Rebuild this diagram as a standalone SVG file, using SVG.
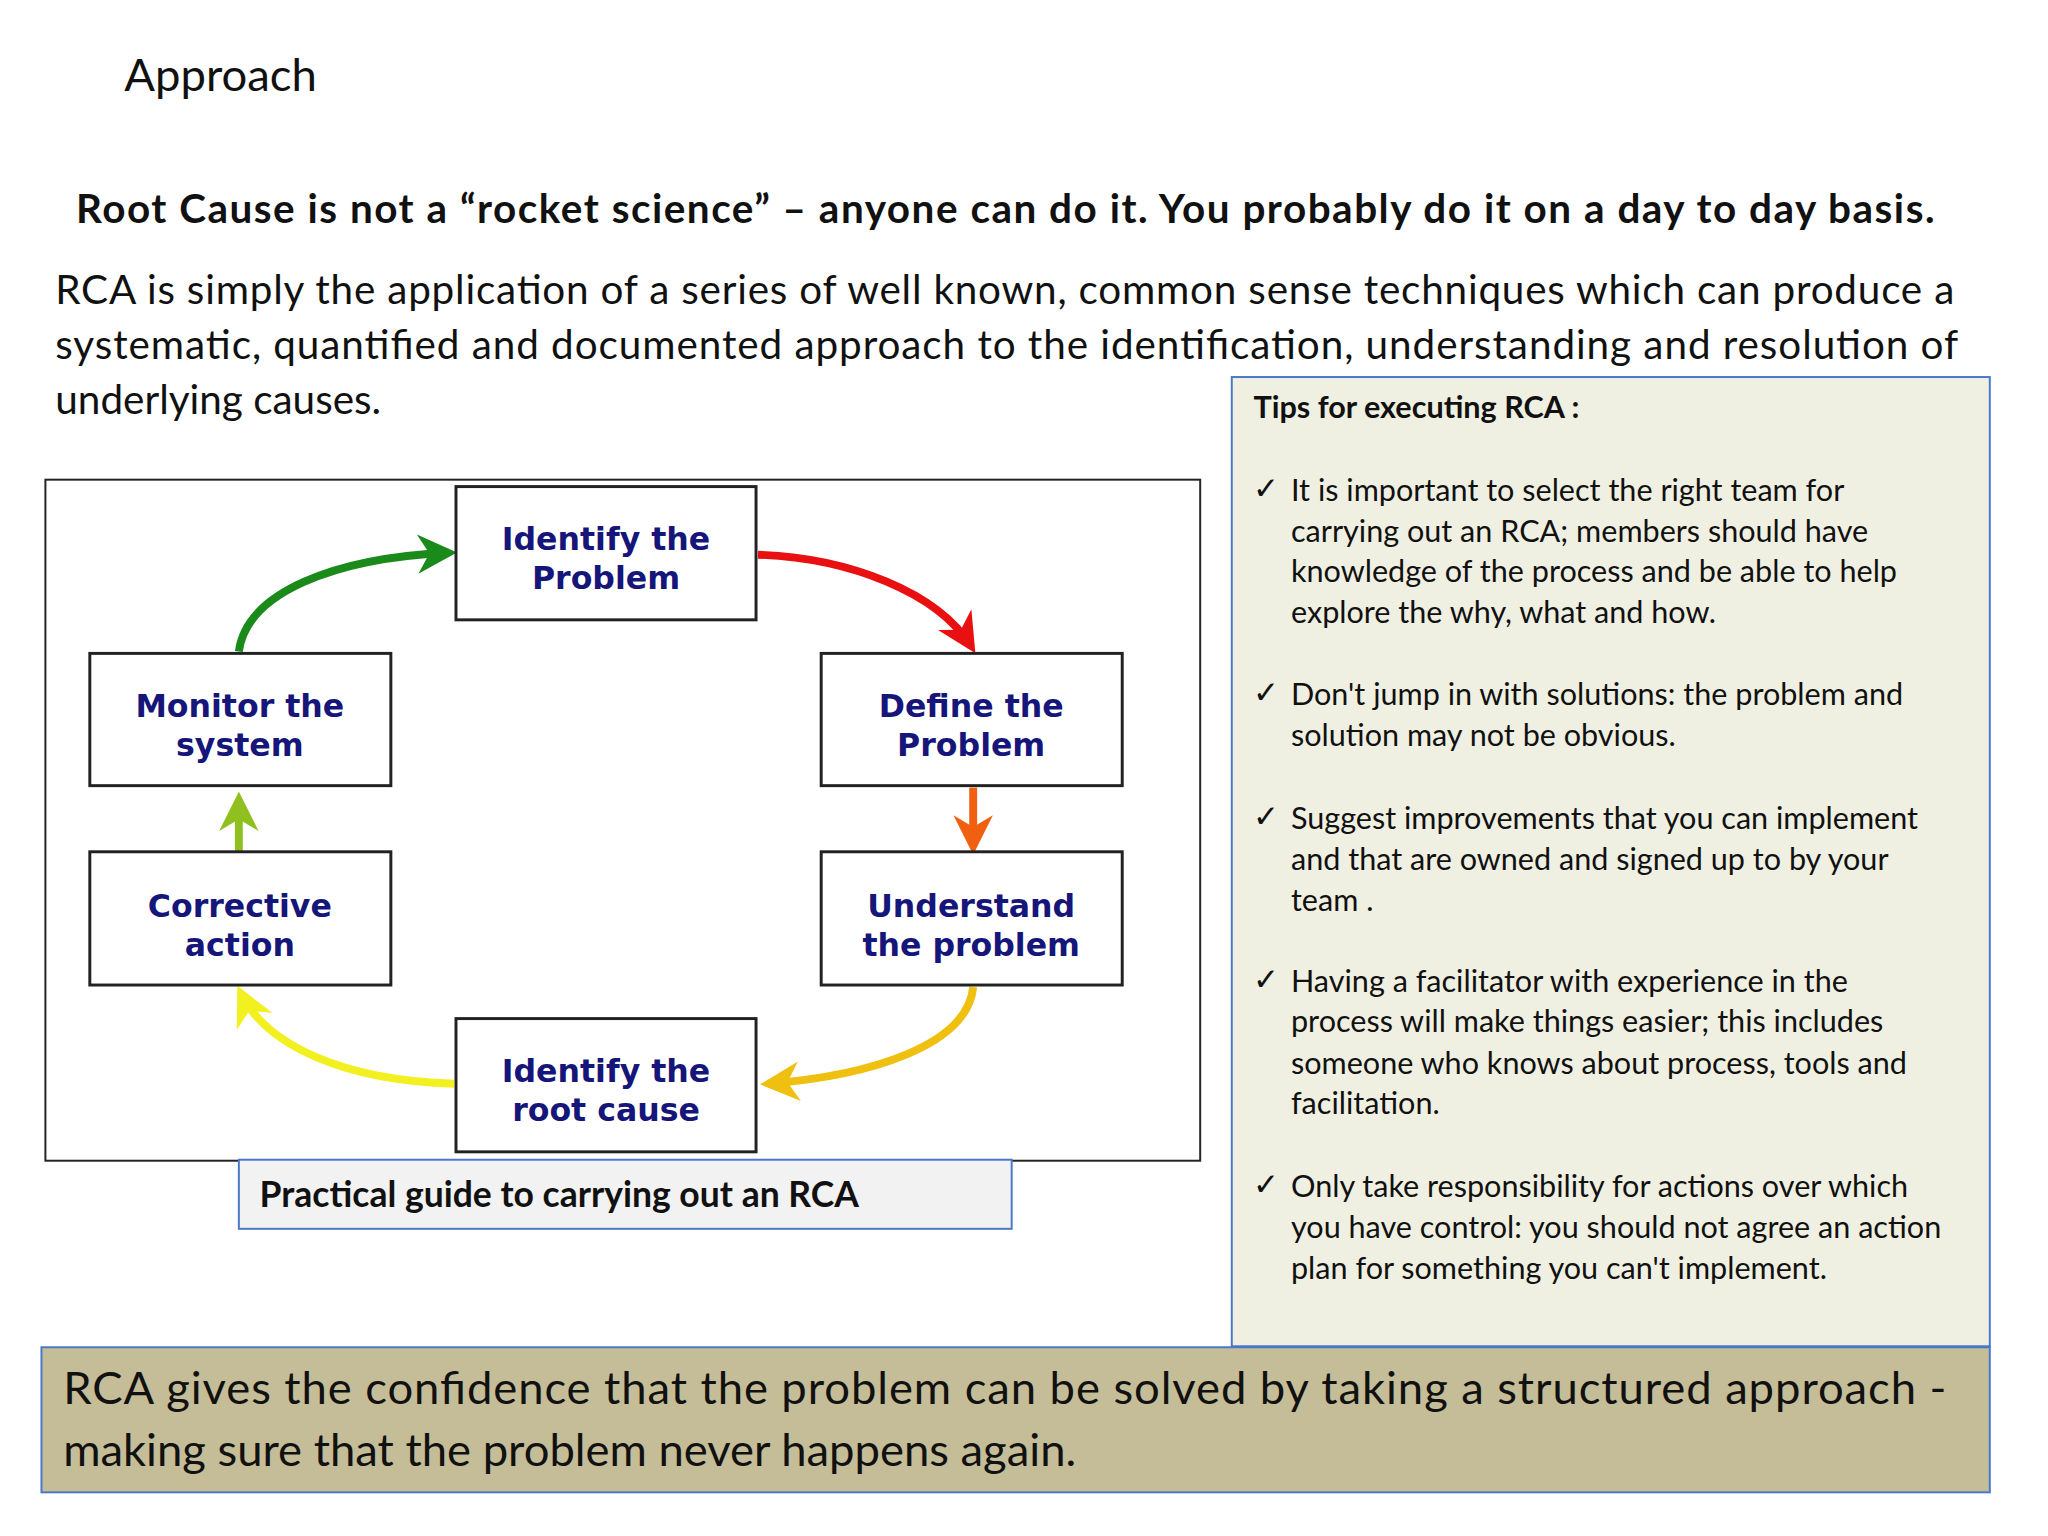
<svg xmlns="http://www.w3.org/2000/svg" width="2048" height="1536" viewBox="0 0 2048 1536">
<style>
.t{font-family:Lato,"Open Sans",sans-serif;fill:#111}
.n rect{fill:#fff;stroke:#222;stroke-width:3}
.n text{font-family:"DejaVu Sans",Verdana,sans-serif;font-weight:bold;font-size:32px;fill:#15157a;text-anchor:middle}
.c path{fill:none;stroke-width:8}
.tip{font-size:31px}
</style>
<defs>
<marker id="mg" viewBox="0 0 10 10" refX="8" refY="5" markerWidth="5" markerHeight="5" orient="auto" markerUnits="strokeWidth"><path d="M0,0 L10,5 L0,10 L3,5Z" fill="#1a8a1a"/></marker>
<marker id="mr" viewBox="0 0 10 10" refX="8" refY="5" markerWidth="5" markerHeight="5" orient="auto" markerUnits="strokeWidth"><path d="M0,0 L10,5 L0,10 L3,5Z" fill="#e81010"/></marker>
<marker id="mo" viewBox="0 0 10 10" refX="8" refY="5" markerWidth="5" markerHeight="5" orient="auto" markerUnits="strokeWidth"><path d="M0,0 L10,5 L0,10 L3,5Z" fill="#f06010"/></marker>
<marker id="my" viewBox="0 0 10 10" refX="8" refY="5" markerWidth="5" markerHeight="5" orient="auto" markerUnits="strokeWidth"><path d="M0,0 L10,5 L0,10 L3,5Z" fill="#f0c010"/></marker>
<marker id="myy" viewBox="0 0 10 10" refX="8" refY="5" markerWidth="5" markerHeight="5" orient="auto" markerUnits="strokeWidth"><path d="M0,0 L10,5 L0,10 L3,5Z" fill="#f2f020"/></marker>
<marker id="ml" viewBox="0 0 10 10" refX="8" refY="5" markerWidth="5" markerHeight="5" orient="auto" markerUnits="strokeWidth"><path d="M0,0 L10,5 L0,10 L3,5Z" fill="#90c020"/></marker>
</defs>
<rect width="2048" height="1536" fill="#fff"/>
<g transform="scale(0.987)">
<text class="t" x="126" y="92" font-size="46">Approach</text>
<text class="t" x="77" y="226" font-size="41" font-weight="bold" textLength="1883">Root Cause is not a “rocket science” – anyone can do it. You probably do it on a day to day basis.</text>
<text class="t" x="56" y="308" font-size="41" textLength="1924">RCA is simply the application of a series of well known, common sense techniques which can produce a</text>
<text class="t" x="56" y="364" font-size="41" textLength="1928">systematic, quantified and documented approach to the identification, understanding and resolution of</text>
<text class="t" x="56" y="419" font-size="41">underlying causes.</text>

<rect x="46" y="486" width="1170" height="690" fill="#fff" stroke="#222" stroke-width="2"/>
<g class="c">
<path d="M242,660 C250,600 340,565 455,560" stroke="#1a8a1a" marker-end="url(#mg)"/>
<path d="M768,562 C860,565 950,600 984,655" stroke="#e81010" marker-end="url(#mr)"/>
<path d="M986,798 L986,858" stroke="#f06010" marker-end="url(#mo)"/>
<path d="M986,1000 C980,1060 880,1090 778,1098" stroke="#f0c010" marker-end="url(#my)"/>
<path d="M460,1098 C350,1095 270,1060 244,1006" stroke="#f2f020" marker-end="url(#myy)"/>
<path d="M242,862 L242,810" stroke="#90c020" marker-end="url(#ml)"/>
</g>
<g id="n1" class="n"><rect x="462" y="493" width="304" height="135"/><text x="614" y="557">Identify the</text><text x="614" y="597">Problem</text></g>
<g id="n2" class="n"><rect x="832" y="662" width="305" height="134"/><text x="984" y="726">Define the</text><text x="984" y="766">Problem</text></g>
<g id="n3" class="n"><rect x="832" y="863" width="305" height="135"/><text x="984" y="929">Understand</text><text x="984" y="969">the problem</text></g>
<g id="n4" class="n"><rect x="462" y="1032" width="304" height="135"/><text x="614" y="1096">Identify the</text><text x="614" y="1136">root cause</text></g>
<g id="n5" class="n"><rect x="91" y="863" width="305" height="135"/><text x="243" y="929">Corrective</text><text x="243" y="969">action</text></g>
<g id="n6" class="n"><rect x="91" y="662" width="305" height="134"/><text x="243" y="726">Monitor the</text><text x="243" y="766">system</text></g>

<rect x="242" y="1175" width="783" height="70" fill="#f2f2f2" stroke="#4a78c8" stroke-width="2"/>
<text class="t" x="263" y="1223" font-size="36" font-weight="bold">Practical guide to carrying out an RCA</text>

<rect x="1248" y="382" width="768" height="982" fill="#eff0e2" stroke="#4a78c8" stroke-width="2"/>
<text class="t" x="1270" y="424" font-size="31" font-weight="bold">Tips for executing RCA :</text>
<g class="t tip">
<text x="1270" y="506">✓</text>
<text x="1308" y="508">It is important to select the right team for</text>
<text x="1308" y="549">carrying out an RCA; members should have</text>
<text x="1308" y="590">knowledge of the process and be able to help</text>
<text x="1308" y="631">explore the why, what and how.</text>
<text x="1270" y="712">✓</text>
<text x="1308" y="714">Don't jump in with solutions: the problem and</text>
<text x="1308" y="756">solution  may not be obvious.</text>
<text x="1270" y="838">✓</text>
<text x="1308" y="840">Suggest improvements that you can implement</text>
<text x="1308" y="881">and that are owned and signed up to by your</text>
<text x="1308" y="923">team .</text>
<text x="1270" y="1003">✓</text>
<text x="1308" y="1005">Having a facilitator with experience in the</text>
<text x="1308" y="1046">process will  make things easier; this includes</text>
<text x="1308" y="1088">someone who knows about process, tools and</text>
<text x="1308" y="1129">facilitation.</text>
<text x="1270" y="1211">✓</text>
<text x="1308" y="1213">Only take responsibility for actions over which</text>
<text x="1308" y="1254">you have control: you should not agree an action</text>
<text x="1308" y="1296">plan for something  you can't implement.</text>
</g>

<rect x="42" y="1365" width="1974" height="147" fill="#c4bd97" stroke="#4a78c8" stroke-width="2"/>
<text class="t" x="64" y="1422" font-size="46" textLength="1908">RCA gives the confidence that the problem can be solved by taking a structured approach -</text>
<text class="t" x="64" y="1485" font-size="46">making sure that the problem never happens again.</text>
</g>
</svg>
